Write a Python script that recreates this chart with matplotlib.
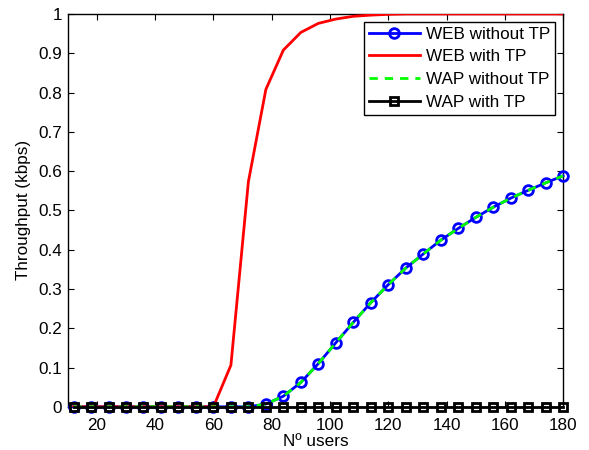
import numpy as np
import matplotlib
matplotlib.use("Agg")
import matplotlib.pyplot as plt

plt.rcParams['font.family'] = ['Liberation Sans', 'DejaVu Sans']

# number of users (x axis)
n_users = list(range(12, 181, 6))

web_without_tp = [0, 0, 0, 0, 0, 0, 0, 0, 0, 0, 0,
                  0.007, 0.027, 0.062, 0.110, 0.163, 0.215, 0.265, 0.311,
                  0.353, 0.389, 0.424, 0.454, 0.482, 0.508, 0.531, 0.551,
                  0.570, 0.588]
web_with_tp = [0, 0, 0, 0, 0, 0, 0, 0, 0,
               0.106, 0.573, 0.808, 0.908, 0.953, 0.976, 0.987, 0.994,
               0.997, 0.999, 1, 1, 1, 1, 1, 1, 1, 1, 1, 1]
wap_without_tp = list(web_without_tp)
wap_with_tp = [0] * len(n_users)

xticks = [20, 40, 60, 80, 100, 120, 140, 160, 180]
yticks = [0, 0.1, 0.2, 0.3, 0.4, 0.5, 0.6, 0.7, 0.8, 0.9, 1]
ytick_labels = ["0", "0.1", "0.2", "0.3", "0.4", "0.5", "0.6", "0.7", "0.8", "0.9", "1"]

fs = 12.3

fig = plt.figure(figsize=(5.89, 4.5), dpi=100)
ax = fig.add_axes([0.115, 0.096, 0.841, 0.873])

ax.plot(n_users, web_without_tp, color="blue", linewidth=2, marker="o",
        markersize=7, markerfacecolor="none", markeredgewidth=2,
        clip_on=False, zorder=3, label="WEB without TP")
ax.plot(n_users, web_with_tp, color="red", linewidth=2, zorder=3, label="WEB with TP")
ax.plot(n_users, wap_without_tp, color="#00ff00", linewidth=2, linestyle=(0, (3, 2.5)),
        clip_on=False, zorder=4, label="WAP without TP")
ax.plot(n_users, wap_with_tp, color="black", linewidth=2, marker="s",
        markersize=5.5, markerfacecolor="none", markeredgewidth=2,
        clip_on=False, zorder=5, label="WAP with TP")

ax.set_xlim(10, 180)
ax.set_ylim(0, 1)
ax.set_xticks(xticks)
ax.set_yticks(yticks)
ax.set_yticklabels(ytick_labels)
ax.tick_params(direction="in", top=True, right=True, labelsize=fs, length=4)
ax.tick_params(axis="x", pad=8)
ax.tick_params(axis="y", pad=4)
for s in ax.spines.values():
    s.set_linewidth(1)
ax.set_xlabel("Nº users", fontsize=fs, labelpad=1)
ax.set_ylabel("Throughput (kbps)", fontsize=fs, labelpad=5)

leg = ax.legend(loc="upper right", fontsize=fs, handlelength=3.0, fancybox=False,
                framealpha=1, edgecolor="black", borderaxespad=0.45,
                labelspacing=0.45, handletextpad=0.35, borderpad=0.3)
leg.get_frame().set_linewidth(1)

fig.savefig("out.png", dpi=100)
